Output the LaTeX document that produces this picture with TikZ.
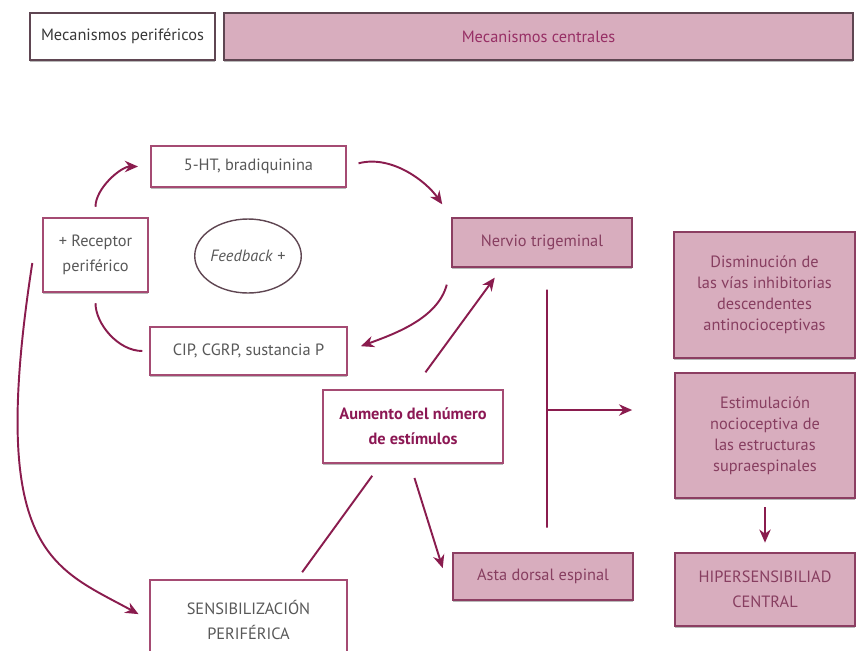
\documentclass[tikz,border=0pt]{standalone}
\usepackage{fontspec}
\setmainfont{PT Sans}
\usepackage{tikz}
\usetikzlibrary{arrows.meta,shapes.geometric,shadows,calc}

\definecolor{pinkfill}{RGB}{216,173,190}
\definecolor{pinkline}{RGB}{140,62,98}
\definecolor{whiteline}{RGB}{165,75,115}
\definecolor{headline}{RGB}{95,70,82}
\definecolor{arrowcol}{RGB}{138,28,78}
\definecolor{graytxt}{RGB}{88,88,88}
\definecolor{pinktxt}{RGB}{135,62,96}
\definecolor{boldtxt}{RGB}{140,24,84}

\newcommand{\bodyfont}{\fontsize{9.3}{14}\selectfont}
\newcommand{\tallfont}{\fontsize{9.3}{12}\selectfont}
\newcommand{\headfont}{\fontsize{9.3}{11}\selectfont}

\begin{document}
\begin{tikzpicture}[x=0.02cm, y=-0.02cm,
  box/.style={line width=0.8pt, align=center, inner sep=2pt, font=\bodyfont,
    drop shadow={shadow xshift=0pt, shadow yshift=-1.2pt, fill=black!55, opacity=0.5}},
  wbox/.style={box, draw=whiteline, fill=white, text=graytxt},
  pbox/.style={box, draw=pinkline, fill=pinkfill, text=pinktxt},
  flow/.style={draw=arrowcol, line width=1.1pt, -{Stealth[length=7.5pt,width=6.5pt]}},
  link/.style={draw=arrowcol, line width=1.1pt}]
  \useasboundingbox (0,0) rectangle (859,650);

  \node[wbox, draw=headline, font=\headfont, text=black!78, minimum width=3.7cm, minimum height=0.94cm] (perif) at (122.5,36.5) {Mecanismos periféricos};
  \node[pbox, draw=headline, font=\headfont, text=boldtxt!90, minimum width=12.58cm, minimum height=0.94cm] (centr) at (538.5,36.5) {Mecanismos centrales};

  \node[wbox, minimum width=3.9cm, minimum height=0.82cm] (ht) at (248.5,166.5) {5-HT, bradiquinina};
  \node[wbox, minimum width=2.1cm, minimum height=1.48cm] (rec) at (95.5,255) {+ Receptor\\periférico};
  \node[ellipse, draw=headline, line width=0.8pt, font=\bodyfont, text=graytxt, minimum width=2.12cm, minimum height=1.48cm, inner sep=0pt] (fb) at (248,256) {\textit{Feedback} +};
  \node[wbox, minimum width=3.94cm, minimum height=0.96cm] (cip) at (248.5,351) {CIP, CGRP, sustancia P};
  \node[wbox, text=boldtxt, font=\bodyfont\bfseries, minimum width=3.6cm, minimum height=1.46cm] (aum) at (413,426.5) {Aumento del número\\de estímulos};
  \node[wbox, minimum width=3.94cm, minimum height=1.6cm] (sen) at (248.5,620) {SENSIBILIZACIÓN\\PERIFÉRICA};

  \node[pbox, minimum width=3.6cm, minimum height=0.98cm] (ner) at (542,242.5) {Nervio trigeminal};
  \node[pbox, minimum width=3.6cm, minimum height=0.94cm] (ast) at (543,576.5) {Asta dorsal espinal};
  \node[pbox, font=\tallfont, minimum width=3.62cm, minimum height=2.52cm] (dis) at (764.5,295) {Disminución de\\las vías inhibitorias\\descendentes\\antinocioceptivas};
  \node[pbox, font=\tallfont, minimum width=3.6cm, minimum height=2.5cm] (est) at (765,435.5) {Estimulación\\nocioceptiva de\\las estructuras\\supraespinales};
  \node[pbox, minimum width=3.6cm, minimum height=1.46cm] (hip) at (765,589.5) {HIPERSENSIBILIAD\\CENTRAL};

  \draw[flow, shorten <=6pt, shorten >=7pt] (rec.north) to[out=90,in=180] (ht.west);
  \draw[link, shorten <=6pt, shorten >=4pt] (rec.south) to[out=-90,in=180] (cip.west);
  \draw[flow, shorten <=7pt, shorten >=9pt] (ht.east) to[out=15,in=125] (ner.north west);
  \draw[flow, shorten <=10pt, shorten >=8pt] (ner.south west) to[out=-105,in=20] (cip.east);
  \draw[flow, shorten >=7pt] ([shift={(-10,8)}]rec.west) .. controls +(-45,290) and +(-97,-53) .. (sen.west);

  \draw[flow, shorten <=12pt, shorten >=7pt] (aum.north) -- ([xshift=-0.8cm]ner.south);
  \draw[link, shorten <=8.5pt, shorten >=5pt] ([xshift=-0.64cm]aum.south) -- ([xshift=0.97cm]sen.north);
  \draw[flow, shorten <=8.5pt, shorten >=5pt] ([xshift=-0.06cm]aum.south) -- ([xshift=-0.14cm]ast.west);

  \draw[link, shorten <=12.5pt, shorten >=14pt] ([xshift=0.1cm]ner.south) -- ([xshift=0.08cm]ast.north);
  \coordinate (bar) at ($([xshift=0.1cm]ner.south)!0.5!([xshift=0.08cm]ast.north)$);
  \draw[flow, shorten >=24pt] (bar) -- (bar -| est.west);
  \draw[flow, shorten <=5pt, shorten >=5.5pt] (est.south) -- (hip.north);
\end{tikzpicture}
\end{document}
